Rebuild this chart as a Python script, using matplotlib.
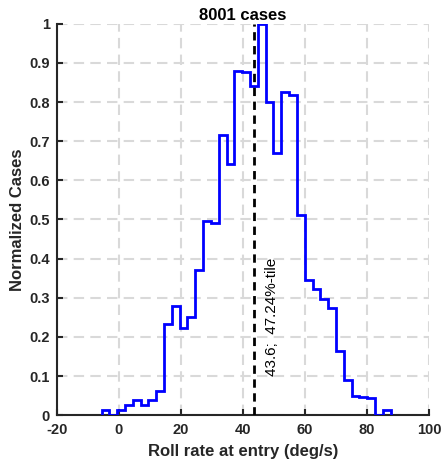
import numpy as np
import matplotlib.pyplot as plt

plt.rcParams["font.family"] = ["Liberation Sans", "DejaVu Sans"]
plt.rcParams["axes.unicode_minus"] = False

# histogram of roll rate at entry, normalized to the tallest bin
bin_start = -5.6
bin_width = 2.519
heights = [0.012, 0.0, 0.012, 0.026, 0.038, 0.026, 0.038, 0.063, 0.232, 0.28,
           0.223, 0.251, 0.37, 0.496, 0.491, 0.716, 0.641, 0.88, 0.877, 0.841,
           1.0, 0.799, 0.67, 0.827, 0.818, 0.511, 0.346, 0.322, 0.297, 0.273,
           0.164, 0.089, 0.049, 0.046, 0.043, 0.0, 0.012]
edges = bin_start + bin_width * np.arange(len(heights) + 1)

n_cases = 8001
pct_value = 43.6
pct_rank = 47.24

xticks = [-20, 0, 20, 40, 60, 80, 100]
yticks = [0, 0.1, 0.2, 0.3, 0.4, 0.5, 0.6, 0.7, 0.8, 0.9, 1]
ytick_labels = ["0", "0.1", "0.2", "0.3", "0.4", "0.5", "0.6", "0.7", "0.8", "0.9", "1"]

fig = plt.figure(figsize=(4.41, 4.67), dpi=100)
ax = fig.add_axes([0.129, 0.111, 0.844, 0.838])

ax.stairs(heights, edges, baseline=0, color="#0000ff", linewidth=2, zorder=3)
ax.axvline(pct_value, color="black", linestyle=(0, (3, 2)), linewidth=2, zorder=4)
ax.text(pct_value + 5.8, 0.1, f"{pct_value};  {pct_rank}%-tile", rotation=90,
        ha="center", va="bottom", fontsize=11, color="black")

ax.set_xlim(-20, 100)
ax.set_ylim(0, 1)
ax.set_xticks(xticks)
ax.set_yticks(yticks)
ax.set_yticklabels(ytick_labels)

ax.grid(True, color="#d9d9d9", linestyle=(0, (5, 3)), linewidth=1.5)
ax.set_axisbelow(True)
for side in ["top", "right"]:
    ax.spines[side].set_visible(False)
for side in ["left", "bottom"]:
    ax.spines[side].set_color("#262626")
    ax.spines[side].set_linewidth(1.5)
ax.tick_params(direction="in", length=4, width=1.5, color="#262626",
               labelsize=10.5, labelcolor="#262626")
ax.tick_params(axis="x", pad=6)
ax.tick_params(axis="y", pad=5)
for lab in ax.get_xticklabels() + ax.get_yticklabels():
    lab.set_fontweight("bold")

ax.set_xlabel("Roll rate at entry (deg/s)", fontsize=12, fontweight="bold",
              color="#262626", labelpad=5)
ax.set_ylabel("Normalized Cases", fontsize=12, fontweight="bold", color="#262626",
              labelpad=3)
ax.set_title(f"{n_cases} cases", fontsize=12, fontweight="bold", pad=3)

fig.savefig("out.png", dpi=100)
